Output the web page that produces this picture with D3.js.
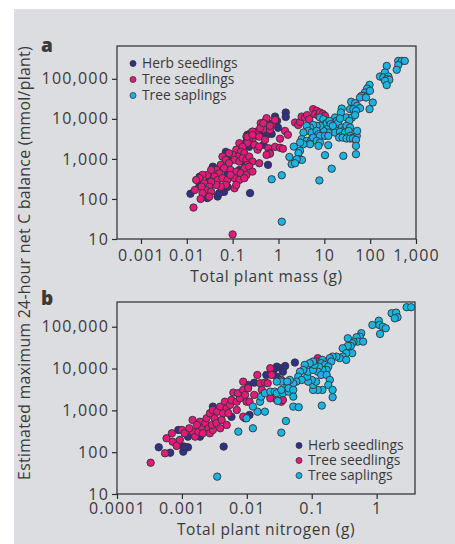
<!DOCTYPE html>
<html>
<head>
<meta charset="utf-8">
<script src="https://cdn.jsdelivr.net/npm/d3@7"></script>
<style>
  body { margin: 0; background: #fff; }
  svg text { font-family: "Open Sans", sans-serif; fill: #3a3a3a; }
</style>
</head>
<body>
<svg width="455" height="544"></svg>
<script>
// values (mass / nitrogen in g, balance in mmol per plant)
const seriesNames = ["Herb seedlings", "Tree seedlings", "Tree saplings"];

const massTicks = [0.001, 0.01, 0.1, 1, 10, 100, 1000];
const nitrogenTicks = [0.0001, 0.001, 0.01, 0.1, 1];
const balanceTicks = [10, 100, 1000, 10000, 100000];
const massDomain = [0.0003, 1000];
const nitrogenDomain = [0.0001, 3.9];
const balanceDomainA = [10, 660000];
const balanceDomainB = [10, 390000];

const herbByMass = [
  [1.44,14400],[1.44,11200],[0.84,11400],[0.93,8900],[0.98,6000],[0.71,4200],[0.55,4000],
  [0.47,4500],[0.33,4800],[0.25,4400],[0.21,4000],[0.2,2700],[0.23,2000],[0.47,2240],
  [0.59,710],[0.071,1500],[0.09,1150],[0.13,1260],[0.18,780],[0.037,640],[0.051,590],
  [0.077,440],[0.065,150],[0.077,200],[0.019,220],[0.019,360],[0.028,105],[0.047,115],
  [0.051,140],[0.012,135],[0.24,140],[0.14,530],[0.031,300]
];
const seedlingByMass = [
  [0.41,7800],[0.51,8600],[0.6,7800],[0.71,7100],[0.55,6400],[0.47,5500],[0.65,5300],
  [0.84,9400],[0.33,4400],[0.38,3600],[0.27,3000],[0.23,3300],[0.2,3600],[0.21,2500],
  [0.3,2240],[0.35,1700],[0.38,2030],[0.51,3000],[0.6,1850],[0.65,1390],[0.14,2470],
  [0.165,2000],[0.12,1700],[0.15,1500],[0.18,1390],[0.13,1140],[0.1,1260],[0.083,1390],
  [0.11,944],[0.14,860],[0.165,1040],[0.2,944],[0.23,1140],[0.27,860],[0.21,708],
  [0.18,585],[0.06,1140],[0.071,944],[0.083,780],[0.055,708],[0.065,585],[0.09,531],
  [0.12,482],[0.15,438],[0.2,398],[0.23,642],[0.27,482],[0.38,780],[0.11,330],[0.14,299],
  [0.18,330],[0.044,531],[0.051,438],[0.04,361],[0.047,299],[0.06,330],[0.077,299],
  [0.09,398],[0.071,224],[0.055,203],[0.044,224],[0.034,270],[0.028,398],[0.034,531],
  [0.022,398],[0.019,330],[0.016,299],[0.024,247],[0.031,203],[0.026,168],[0.021,203],
  [0.022,139],[0.034,152],[0.031,114],[0.11,185],[0.12,224],[0.02,100],[0.014,61],
  [0.1,13],[0.015,168],
  [2.3,8100],[2.7,7000],[2.95,8400],[3.2,11400],[3.8,10800],[4.2,12400],[4.7,9800],
  [5.7,17500],[6.8,15900],[6.3,13100],[7.45,11900],[8.05,14400],[9.3,13300],[10.35,11900],
  [0.65,6700],[1.39,5000],[1.6,4000],[1.08,3200],[0.84,2000],[1.08,1900],[1.25,1800],
  [0.65,1350],[0.4,5850],[0.55,10400],[0.47,7800],[0.27,4820],[0.21,3600],[0.27,3980],
  [0.55,1260]
];
const saplingByMass = [
  [230,210000],[410,280000],[490,280000],[570,280000],[410,220000],[380,168000],
  [164,114000],[210,144000],[194,108000],[250,114000],[230,98000],[262,94400],[211,89000],
  [230,69600],[97,70800],[86,57000],[77,45500],[72,37600],[65,37600],[60,34100],[81,34100],
  [99,50100],[114,25600],[97,17500],[38.5,26700],[47,24700],[52,21200],[60,18500],
  [36.4,17500],[43,17500],[49,15900],[24,18100],[23,14400],[30.5,10800],[40,10800],
  [47,12400],[35,8900],[17.1,10800],[18.5,8900],[20,8100],[22,10200],[24,6070],[28.3,5530],
  [30.5,6690],[36.4,6070],[15.7,5530],[18.5,5010],[17.1,4550],[22,4740],[24,3760],
  [28.3,4550],[34,5010],[37,3760],[43,3410],[51,3760],[52,5010],[21,3410],[25,3410],
  [30.5,3230],[36.4,3230],[42,3230],[49,2990],[49,2120],[49,1310],[26,1190],[8.05,10800],
  [9.5,9800],[10.35,7360],[11.2,7800],[12.9,8900],[13.7,7360],[15.3,6690],[11.2,5530],
  [12.2,4550],[9.5,5010],[8.05,6690],[6.8,6690],[5.7,7080],[4.87,6070],[4.1,6690],
  [4.45,5010],[5.3,4550],[6.8,5010],[7.45,4140],[8.05,3760],[10.35,3760],[12.2,3760],
  [3.5,4550],[3.2,3110],[4.1,2820],[4.87,2560],[5.3,3110],[5.7,3410],[6.8,2820],
  [8.05,2560],[7.45,2120],[4.87,2330],[3.5,2330],[2.95,2560],[2.16,2030],[2.95,1590],
  [2.73,1390],[2.84,980],[3.25,944],[2.5,980],[1.73,1120],[1.94,740],[2.3,780],
  [12.2,2200],[10.35,1240],[14.5,570],[7.8,290],[0.71,310],[1.18,390],[1.18,27]
];

const herbByNitrogen = [
  [0.00044,131],[0.00066,97],[0.00105,103],[0.00105,136],[0.00124,131],[0.00088,340],
  [0.00124,235],[0.0019,235],[0.003,1230],[0.0058,700],[0.0105,4050],[0.0094,650],
  [0.011,776],[0.013,4600],[0.02,7030],[0.029,11100],[0.034,10200],[0.039,11500],
  [0.036,8400],[0.029,6400],[0.0044,136],[0.055,13900],[0.026,9270],[0.0011,136]
];
const seedlingByNitrogen = [
  [0.00033,56],[0.00055,94],[0.00058,215],[0.0007,283],[0.00072,178],[0.00093,196],
  [0.00083,141],[0.001,340],[0.0011,283],[0.00146,310],[0.0016,235],[0.0018,310],
  [0.002,408],[0.00146,589],[0.0019,536],[0.0023,492],[0.0021,283],[0.0026,373],
  [0.0027,283],[0.003,340],[0.0029,448],[0.0024,647],[0.0027,852],[0.0032,647],
  [0.0034,492],[0.0039,373],[0.0041,589],[0.003,1020],[0.0035,930],[0.0039,1230],
  [0.0046,1610],[0.0049,1120],[0.0043,852],[0.0052,852],[0.0049,448],[0.0055,1350],
  [0.0062,2660],[0.0058,1770],[0.007,1610],[0.0078,1940],[0.0073,2570],[0.0088,3080],
  [0.0094,2340],[0.0099,1610],[0.0088,707],[0.011,1610],[0.0088,4860],[0.0105,3380],
  [0.016,4450],[0.019,4600],[0.023,10200],[0.024,7030],[0.021,4450],[0.023,1940],
  [0.029,1770],[0.034,1610],[0.124,17700],[0.12,14700],[0.105,11100],[0.036,1770],
  [0.034,5340],[0.0017,448],[0.0013,373],[0.007,1020],[0.013,2340],[0.017,3080],
  [0.0145,7030]
];
const saplingByNitrogen = [
  [0.0035,26],[0.0074,310],[0.0124,373],[0.034,293],[0.04,557],[0.0099,647],[0.0146,930],
  [0.019,930],[0.0124,1230],[0.016,1610],[0.0166,2130],[0.019,2570],[0.023,2800],
  [0.027,2800],[0.029,2570],[0.036,2570],[0.044,2800],[0.042,3690],[0.034,4860],
  [0.029,4860],[0.03,1670],[0.052,1230],[0.063,1190],[0.143,1300],
  [2.9,293000],[3.4,293000],[1.7,210000],[2.0,217000],[2.1,168000],[1.9,159000],
  [0.86,110000],[1.08,139000],[1.1,110000],[1.24,100000],[1.38,92000],[1.13,67000],
  [0.58,70000],[0.55,58000],[0.49,56000],[0.51,44000],[0.62,44000],[0.44,44000],
  [0.42,40300],[0.4,34700],[0.36,34700],[0.3,30600],[0.42,23300],[0.34,23300],[0.3,19300],
  [0.27,17700],[0.24,19300],[0.21,19300],[0.19,17700],[0.34,16100],[0.2,14700],
  [0.36,53000],[0.146,16100],[0.14,13400],[0.16,12200],[0.18,11100],[0.17,9270],
  [0.146,9270],[0.13,11100],[0.124,8400],[0.14,7030],[0.17,7030],[0.19,5340],[0.18,4050],
  [0.21,3080],[0.21,2060],[0.146,3080],[0.124,3080],[0.105,3080],[0.105,4050],
  [0.117,4860],[0.1,5340],[0.088,4860],[0.085,6400],[0.088,8400],[0.105,9270],
  [0.11,12200],[0.105,14700],[0.093,13400],[0.078,12200],[0.074,9270],[0.066,8400],
  [0.062,6400],[0.07,5340],[0.058,4860],[0.052,4450],[0.046,5340],[0.042,4860],
  [0.034,3080],[0.044,3380],[0.052,3080],[0.052,2130]
];

const colors = ["#30308a", "#e3197c", "#19b3e4"];
const fmt = d3.format(",");

const svg = d3.select("svg");
svg.append("rect")
  .attr("x", 14).attr("y", 9)
  .attr("width", 441).attr("height", 535)
  .attr("fill", "#dcdde0");

function drawPanel(p){
  const x = d3.scaleLog().domain(p.xDomain).range([p.left, p.right]);
  const y = d3.scaleLog().domain(p.yDomain).range([p.bottom, p.top]);

  const xAxis = d3.axisBottom(x)
    .tickValues(p.xTicks).tickFormat(fmt)
    .tickSize(5).tickSizeOuter(0).tickPadding(p.xPad);
  const yAxis = d3.axisLeft(y)
    .tickValues(balanceTicks).tickFormat(fmt)
    .tickSize(5).tickSizeOuter(0).tickPadding(3);

  const gx = svg.append("g")
    .attr("transform", `translate(0,${p.bottom})`)
    .call(xAxis);
  const gy = svg.append("g")
    .attr("transform", `translate(${p.left},0)`)
    .call(yAxis);
  [gx, gy].forEach(g => {
    g.select(".domain").remove();
    g.selectAll(".tick line").attr("stroke", "#2b2b2b").attr("stroke-width", 1.2);
    g.selectAll(".tick text")
      .attr("fill", "#3a3a3a")
      .style("font-size", "16px")
      .style("letter-spacing", "1.2px");
  });

  svg.append("rect")
    .attr("x", p.left).attr("y", p.top)
    .attr("width", p.right - p.left).attr("height", p.bottom - p.top)
    .attr("fill", "none")
    .attr("stroke", "#2b2b2b")
    .attr("stroke-width", 1.2);

  p.series.forEach((data, i) => {
    svg.append("g")
      .selectAll("circle")
      .data(data)
      .join("circle")
      .attr("cx", d => x(d[0]))
      .attr("cy", d => y(d[1]))
      .attr("r", 3.7)
      .attr("fill", colors[i])
      .attr("stroke", "#333")
      .attr("stroke-width", 0.9);
  });

  svg.append("text")
    .text(p.label)
    .attr("x", 41).attr("y", p.labelY)
    .style("font-size", "19px")
    .style("font-weight", "800")
    .attr("fill", "#1a1a1a");

  svg.append("text")
    .text(p.xTitle)
    .attr("x", (p.left + p.right) / 2)
    .attr("y", p.xTitleY)
    .style("text-anchor", "middle")
    .style("font-size", "15.5px")
    .style("letter-spacing", "0.6px");

  const leg = svg.append("g");
  seriesNames.forEach((name, i) => {
    leg.append("circle")
      .attr("cx", p.legX).attr("cy", p.legY + i * p.legStep - 4.5)
      .attr("r", 3)
      .attr("fill", colors[i])
      .attr("stroke", "#333")
      .attr("stroke-width", 0.8);
    leg.append("text")
      .text(name)
      .attr("x", p.legX + 9).attr("y", p.legY + i * p.legStep)
      .style("font-size", "13.8px");
  });
}

drawPanel({
  label: "a", labelY: 52,
  xDomain: massDomain, yDomain: balanceDomainA, xTicks: massTicks,
  left: 117, right: 416, top: 46, bottom: 239, xPad: 6,
  series: [herbByMass, seedlingByMass, saplingByMass],
  xTitle: "Total plant mass (g)", xTitleY: 282,
  legX: 133, legY: 68, legStep: 16
});

drawPanel({
  label: "b", labelY: 305,
  xDomain: nitrogenDomain, yDomain: balanceDomainB, xTicks: nitrogenTicks,
  left: 117, right: 415, top: 302, bottom: 494, xPad: 4,
  series: [herbByNitrogen, seedlingByNitrogen, saplingByNitrogen],
  xTitle: "Total plant nitrogen (g)", xTitleY: 535,
  legX: 299, legY: 450, legStep: 15
});

svg.append("text")
  .text("Estimated maximum 24-hour net C balance (mmol/plant)")
  .attr("transform", "translate(29.5,263) rotate(-90)")
  .style("text-anchor", "middle")
  .style("font-size", "15.8px")
  .style("letter-spacing", "0.3px");
</script>
</body>
</html>
